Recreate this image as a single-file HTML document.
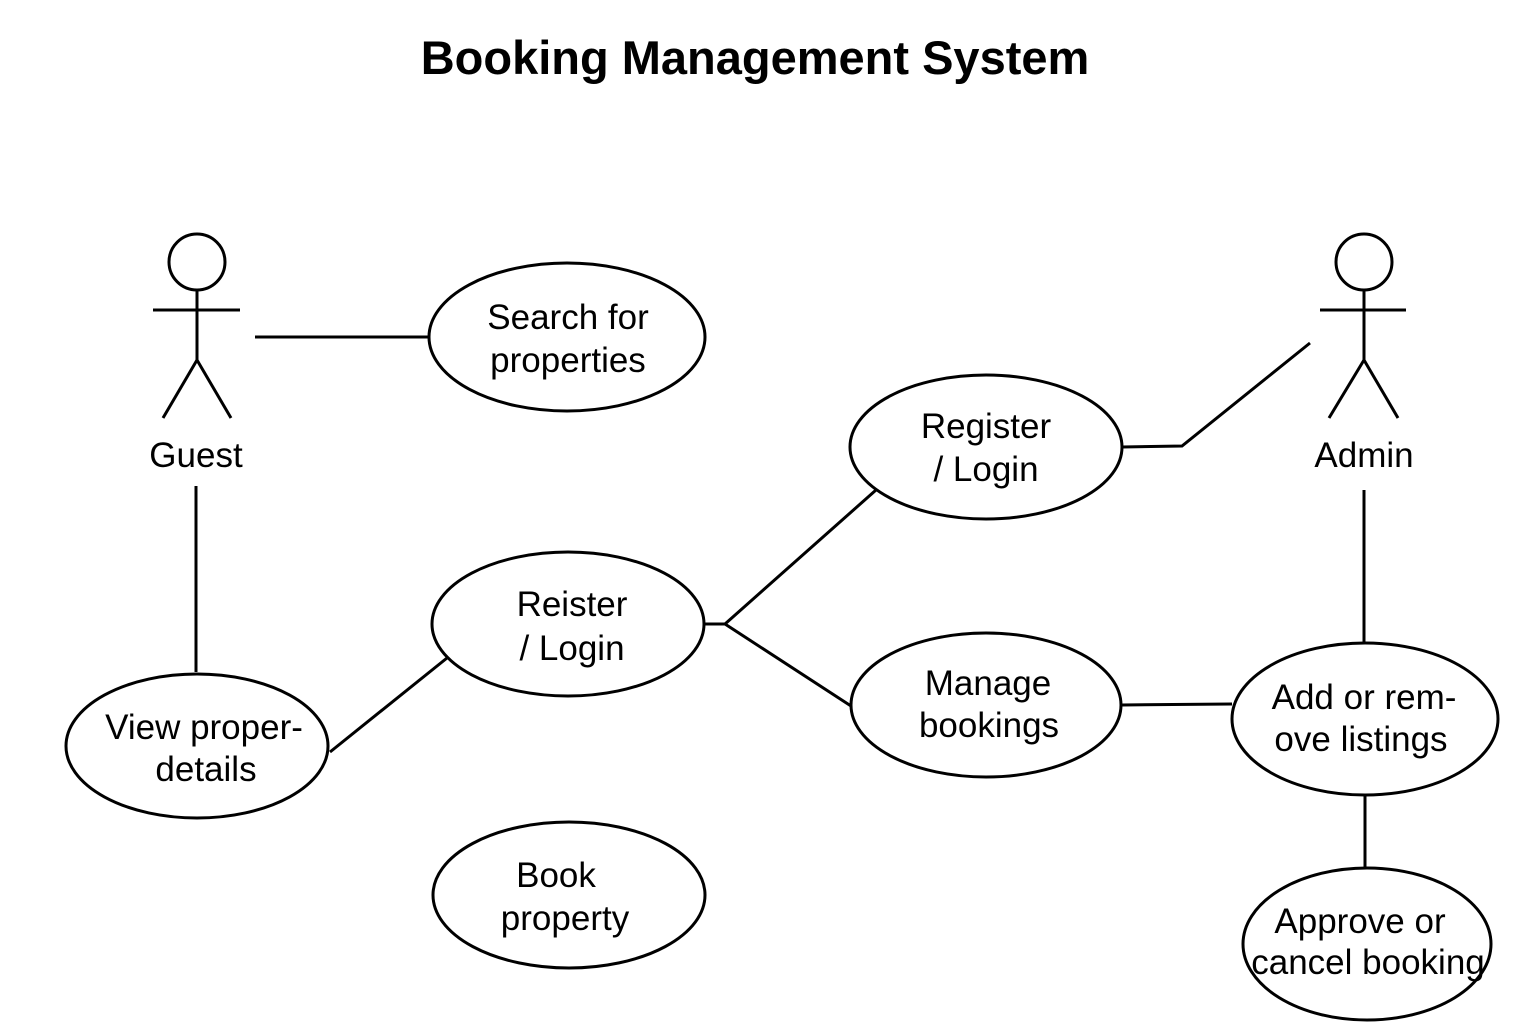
<!DOCTYPE html>
<html><head><meta charset="utf-8"><style>
html,body{margin:0;padding:0;background:#fff;}
svg{display:block;}
text{font-family:"Liberation Sans",Arial,sans-serif;fill:#000;}
</style></head><body>
<svg width="1536" height="1024" viewBox="0 0 1536 1024" xmlns="http://www.w3.org/2000/svg">
<rect width="1536" height="1024" fill="#fff"/>
<text x="755" y="74" font-size="47" font-weight="bold" text-anchor="middle">Booking Management System</text>
<g fill="none" stroke="#000" stroke-width="3">
<circle cx="197" cy="262" r="28"/>
<line x1="197" y1="290" x2="197" y2="360"/>
<line x1="153" y1="310" x2="240" y2="310"/>
<line x1="197" y1="360" x2="163" y2="418"/>
<line x1="197" y1="360" x2="231" y2="418"/>
<circle cx="1364" cy="262" r="28"/>
<line x1="1364" y1="290" x2="1364" y2="360"/>
<line x1="1320" y1="310" x2="1406" y2="310"/>
<line x1="1364" y1="360" x2="1329" y2="418"/>
<line x1="1364" y1="360" x2="1398" y2="418"/>
<ellipse cx="567" cy="337" rx="138" ry="74"/>
<ellipse cx="986" cy="447" rx="136" ry="72"/>
<ellipse cx="568" cy="624" rx="136" ry="72"/>
<ellipse cx="986" cy="705" rx="135" ry="72"/>
<ellipse cx="197" cy="746" rx="131" ry="72"/>
<ellipse cx="569" cy="895" rx="136" ry="73"/>
<ellipse cx="1365" cy="719" rx="133" ry="76"/>
<ellipse cx="1367" cy="944" rx="124" ry="76"/>
<line x1="255" y1="337" x2="429" y2="337"/>
<polyline points="1310,343 1182,446 1122,447"/>
<line x1="196" y1="486" x2="196" y2="672"/>
<line x1="330" y1="752" x2="447" y2="658"/>
<polyline points="705,624 725,624 876,490"/>
<line x1="725" y1="624" x2="851" y2="706"/>
<line x1="1122" y1="705" x2="1232" y2="704"/>
<line x1="1364" y1="490" x2="1364" y2="643"/>
<line x1="1365" y1="795" x2="1365" y2="868"/>
</g>
<g font-size="35" text-anchor="middle">
<text x="196" y="467">Guest</text>
<text x="1364" y="467">Admin</text>
<text x="568" y="329">Search for</text>
<text x="568" y="372">properties</text>
<text x="986" y="438">Register</text>
<text x="986" y="481">/ Login</text>
<text x="572" y="616">Reister</text>
<text x="572" y="660">/ Login</text>
<text x="988" y="695">Manage</text>
<text x="989" y="737">bookings</text>
<text x="204" y="739">View proper-</text>
<text x="206" y="781">details</text>
<text x="556" y="887">Book</text>
<text x="565" y="930">property</text>
<text x="1364" y="709">Add or rem-</text>
<text x="1361" y="751">ove listings</text>
<text x="1360" y="933">Approve or</text>
<text x="1368" y="974">cancel booking</text>
</g>
</svg>
</body></html>
